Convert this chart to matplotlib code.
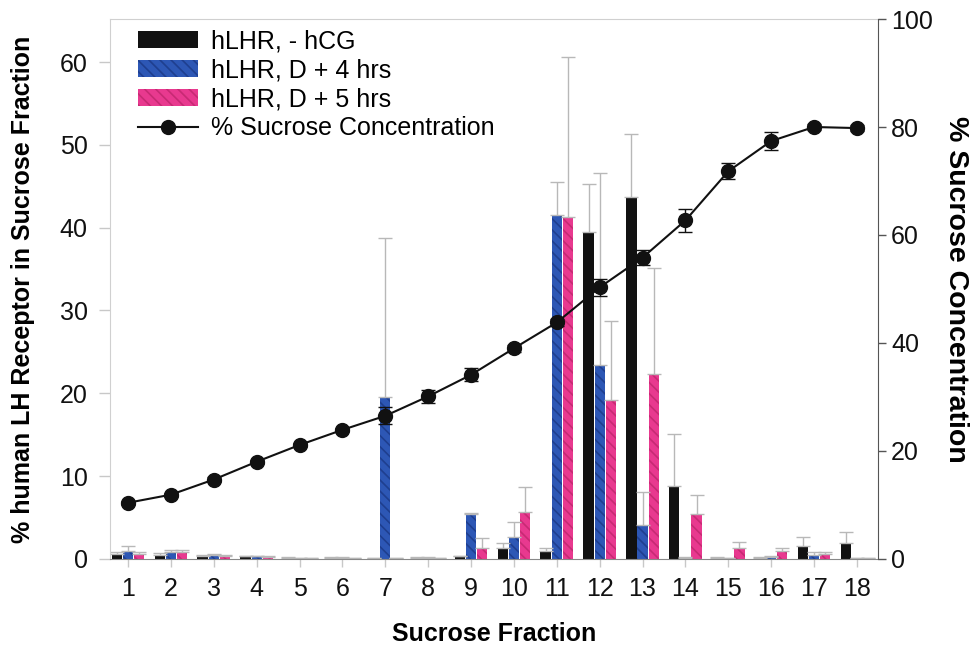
import numpy as np
import matplotlib.pyplot as plt
from matplotlib.lines import Line2D

plt.rcParams['font.family'] = ['Liberation Sans', 'DejaVu Sans']
plt.rcParams['hatch.linewidth'] = 1.2

fractions = np.arange(1, 19)

# % hLH receptor per fraction (mean and upper error)
no_hcg = [0.6, 0.5, 0.4, 0.3, 0.1, 0.1, 0.05, 0.1, 0.3, 1.3, 1.0, 39.5, 43.7, 8.8, 0.1, 0.1, 1.6, 1.9]
no_hcg_err = [0.2, 0.2, 0.1, 0.1, 0.1, 0.1, 0.05, 0.1, 0.1, 0.6, 0.3, 5.8, 7.6, 6.3, 0.1, 0.1, 1.1, 1.4]
d4 = [1.0, 0.8, 0.5, 0.3, 0.1, 0.1, 19.6, 0.1, 5.4, 2.7, 41.5, 23.4, 4.1, 0.1, 0.1, 0.2, 0.5, 0.1]
d4_err = [0.5, 0.3, 0.1, 0.1, 0.05, 0.1, 19.1, 0.1, 0.2, 1.8, 4.0, 23.2, 4.0, 0.1, 0.05, 0.1, 0.3, 0.05]
d5 = [0.6, 0.8, 0.4, 0.2, 0.05, 0.1, 0.1, 0.1, 1.3, 5.7, 41.3, 19.2, 22.3, 5.4, 1.3, 1.0, 0.6, 0.1]
d5_err = [0.2, 0.3, 0.1, 0.1, 0.05, 0.05, 0.05, 0.05, 1.2, 3.0, 19.3, 9.5, 12.8, 2.3, 0.7, 0.3, 0.2, 0.05]

# % sucrose concentration per fraction
sucrose = [10.4, 11.9, 14.7, 18.0, 21.1, 23.9, 26.5, 30.1, 34.1, 39.0, 43.8, 50.3, 55.8, 62.7, 71.8, 77.4, 80.0, 79.8]
sucrose_err = [0.4, 0.4, 0.4, 0.4, 0.4, 0.4, 1.6, 1.2, 1.2, 0.6, 0.6, 1.6, 1.4, 2.2, 1.5, 1.6, 0.5, 0.5]

labels = ['hLHR, - hCG', 'hLHR, D + 4 hrs', 'hLHR, D + 5 hrs', '% Sucrose Concentration']

fs = 18
fig = plt.figure(figsize=(9.77, 6.56), dpi=100)
ax = fig.add_axes([0.1126, 0.148, 0.786, 0.823])

w = 0.24
off = 0.26
err_kw = dict(ecolor='#b8b8b8', elinewidth=1.0, capsize=5, capthick=1.0)
b1 = ax.bar(fractions - off, no_hcg, w, color='#111111', linewidth=0,
            yerr=[np.zeros(18), no_hcg_err], error_kw=err_kw)
b2 = ax.bar(fractions, d4, w, color='#2d57b5', edgecolor='#1f3f8f', linewidth=0, hatch='\\\\\\',
            yerr=[np.zeros(18), d4_err], error_kw=err_kw)
b3 = ax.bar(fractions + off, d5, w, color='#e8398f', edgecolor='#c72a74', linewidth=0, hatch='\\\\\\',
            yerr=[np.zeros(18), d5_err], error_kw=err_kw)

ax.set_xlim(0.58, 18.49)
ax.set_ylim(0, 65.2)
ax.set_xticks(fractions)
ax.set_yticks(range(0, 61, 10))
ax.tick_params(axis='both', colors='#c8c8c8', labelcolor='#111111', labelsize=fs, length=6, width=1)
ax.tick_params(axis='x', pad=7)
ax.tick_params(axis='y', length=8, pad=8)
for s in ['left', 'top']:
    ax.spines[s].set_color('#d0d0d0')
ax.spines['bottom'].set_color('#888888')
ax.spines['right'].set_visible(False)
ax.set_xlabel('Sucrose Fraction', fontsize=fs, fontweight='bold', labelpad=15)
ax.set_ylabel('% human LH Receptor in Sucrose Fraction', fontsize=fs, fontweight='bold', labelpad=18)

ax2 = ax.twinx()
ax2.errorbar(fractions, sucrose, yerr=sucrose_err, color='#111111', marker='o', markersize=10,
             linewidth=1.5, ecolor='#111111', elinewidth=1, capsize=5)
ax2.set_ylim(0, 100)
ax2.set_yticks(range(0, 101, 20))
ax2.tick_params(axis='y', colors='#555555', labelcolor='#111111', labelsize=fs, length=6, width=1)
ax2.spines['right'].set_color('#555555')
for s in ['left', 'top', 'bottom']:
    ax2.spines[s].set_visible(False)
ax2.set_ylabel('% Sucrose Concentration', fontsize=20.5, fontweight='bold', rotation=270, labelpad=24)
ax2.yaxis.set_label_coords(1.118, 0.5)

line_handle = Line2D([], [], color='#111111', marker='o', markersize=10, linewidth=1.5)
ax2.legend([b1, b2, b3, line_handle], labels, loc='upper left', bbox_to_anchor=(0.036, 0.981),
           frameon=False, fontsize=fs, handlelength=2.4, handleheight=0.7,
           labelspacing=0.2, handletextpad=0.55, borderpad=0, borderaxespad=0)

fig.savefig('out.png', dpi=100)
